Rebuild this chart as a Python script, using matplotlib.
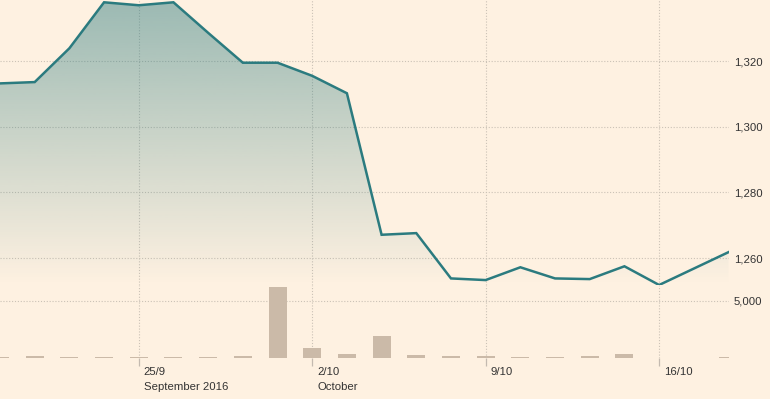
import numpy as np
import matplotlib
matplotlib.use("Agg")
import matplotlib.pyplot as plt
from matplotlib.patches import Polygon
from matplotlib.transforms import ScaledTranslation

plt.rcParams['font.family'] = ['Liberation Sans', 'DejaVu Sans']

# Gold price, daily closes (trading days)
price = [1313.2, 1313.6, 1323.9, 1337.9, 1337.0, 1337.9, 1328.6, 1319.5, 1319.5,
         1315.5, 1310.2, 1267.1, 1267.6, 1253.8, 1253.3, 1257.2, 1253.8, 1253.6,
         1257.5, 1251.8, 1256.8, 1261.8]
volume = [90, 150, 90, 90, 90, 90, 90, 150, 6230, 850, 320, 1900,
          230, 150, 150, 90, 90, 150, 320, 0, 0, 100]
tick_pos = [4, 9, 14, 19]
tick_day = ["25/9", "2/10", "9/10", "16/10"]
tick_month = ["September 2016", "October", "", ""]
price_ticks = [1260, 1280, 1300, 1320]
vol_ticks = [5000]

bg = "#fef1e1"
line_col = "#2b7b7f"
grid_col = "#cbc2b6"
bar_col = "#cbbaa8"
text_col = "#333333"

x = np.arange(len(price))
W, H = 770, 399
fig = plt.figure(figsize=(W / 100, H / 100), dpi=100, facecolor=bg)

right = 728.5 / W
ax = fig.add_axes([0, 1 - 285 / H, right, 285 / H], facecolor=bg)
axv = fig.add_axes([0, 1 - 358 / H, right, 73 / H], facecolor=bg)

ymin, ymax = 1251.8, 1338.6
ax.set_xlim(0, len(price) - 1)
ax.set_ylim(ymin, ymax)

# gradient fill under the line
alpha = np.linspace(0.47, 0.0, 256).reshape(-1, 1)
rgb = matplotlib.colors.to_rgb(line_col)
grad = np.zeros((256, 1, 4))
grad[:, :, :3] = rgb
grad[:, :, 3] = alpha
im = ax.imshow(grad, aspect="auto", extent=(0, len(price) - 1, ymin, ymax),
               origin="upper", zorder=1)
verts = list(zip(x, price)) + [(len(price) - 1, ymin), (0, ymin)]
patch = Polygon(verts, closed=True, facecolor="none", edgecolor="none")
ax.add_patch(patch)
im.set_clip_path(patch)

ax.plot(x, price, color=line_col, lw=1.8, zorder=3, solid_joinstyle="miter")

# volume bars
axv.bar(x, volume, width=0.52, color=bar_col, zorder=2)
axv.set_xlim(0, len(price) - 1)
axv.set_ylim(0, 6400)

for a, ticks in ((ax, price_ticks), (axv, vol_ticks)):
    for s in a.spines.values():
        s.set_visible(False)
    a.set_yticks(ticks)
    a.set_yticklabels([f"{t:,}" for t in ticks])
    a.yaxis.tick_right()
    a.tick_params(axis="y", length=0, pad=4, labelsize=8.2, labelcolor=text_col)
    a.set_xticks([])
    for t in ticks:
        a.axhline(t, color=grid_col, lw=0.8, ls=(0, (1, 1.6)), zorder=0)
    for p in tick_pos:
        a.axvline(p, color=grid_col, lw=0.8, ls=(0, (1, 1.6)), zorder=0)

# x ticks and labels under the volume panel
axv.set_xticks(tick_pos)
axv.set_xticklabels([])
axv.tick_params(axis="x", length=6, width=0.9, color="#c4bab0", direction="out")
off = ScaledTranslation(5 / 100, 0, fig.dpi_scale_trans)
for p, d, m in zip(tick_pos, tick_day, tick_month):
    axv.text(p, -0.12, d, transform=axv.get_xaxis_transform() + off,
             ha="left", va="top", fontsize=8.2, color=text_col)
    if m:
        axv.text(p, -0.33, m, transform=axv.get_xaxis_transform() + off,
                 ha="left", va="top", fontsize=8.2, color=text_col)

fig.savefig("out.png", dpi=100, facecolor=bg)
